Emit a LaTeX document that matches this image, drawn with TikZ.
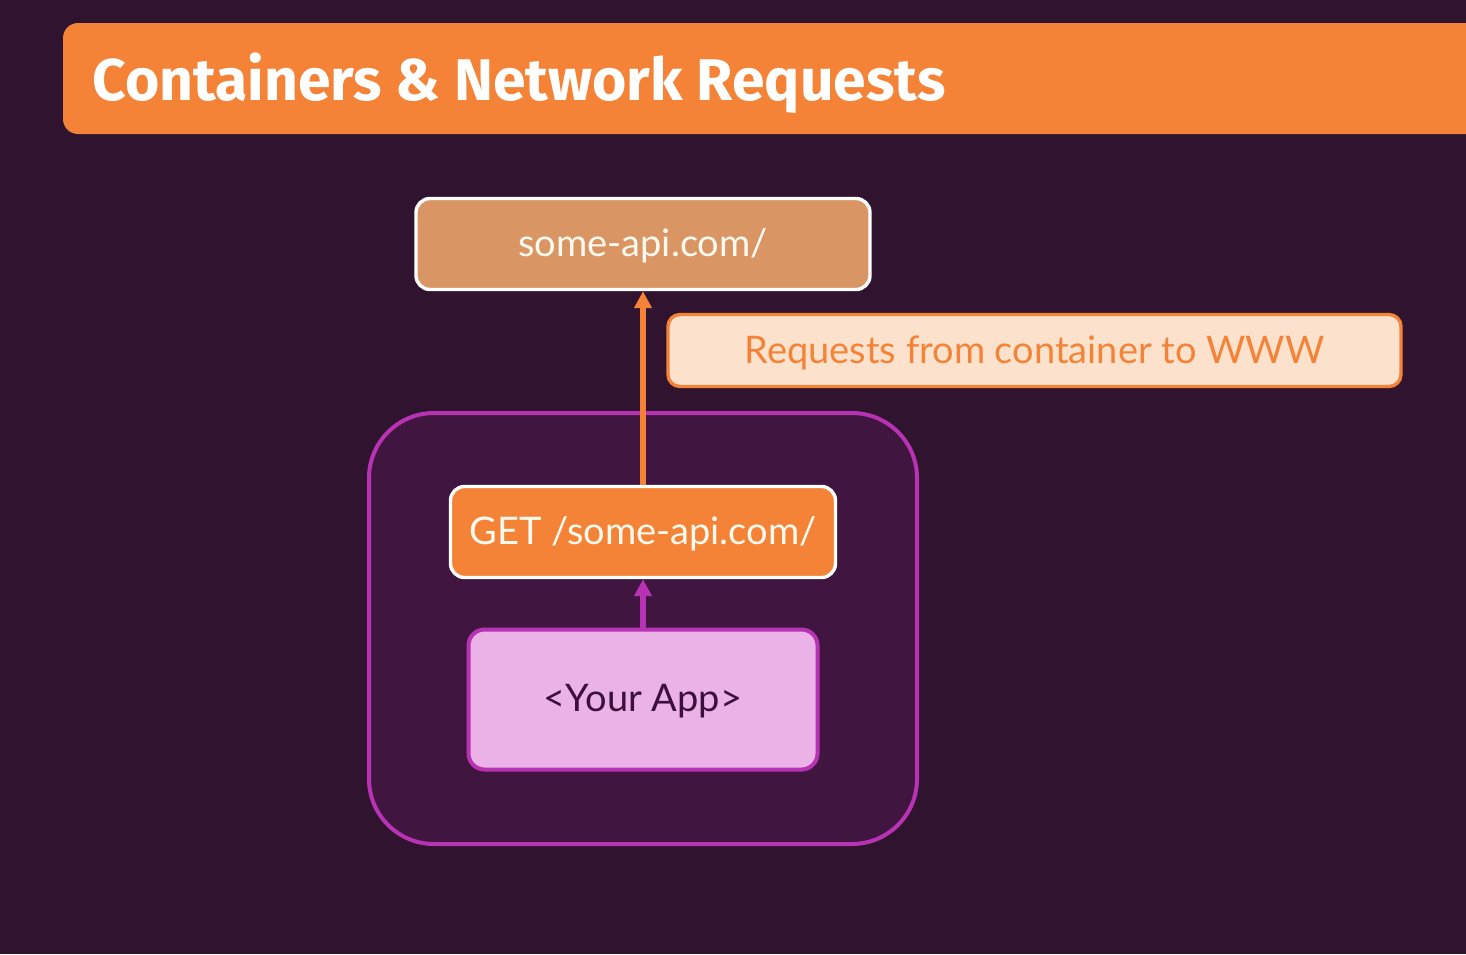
\documentclass[tikz,border=0pt]{standalone}
\usepackage{fontspec}
\setmainfont{Lato}
\newfontfamily\titlefont{Fira Sans}
\usetikzlibrary{arrows.meta}
\definecolor{bg}{RGB}{47,19,47}
\definecolor{ora}{RGB}{244,131,56}
\definecolor{apifill}{RGB}{217,150,100}
\definecolor{notefill}{RGB}{252,226,204}
\definecolor{mag}{RGB}{184,50,180}
\definecolor{contfill}{RGB}{64,22,64}
\definecolor{appfill}{RGB}{234,178,230}
\definecolor{apptext}{RGB}{60,15,60}
\definecolor{offwhite}{RGB}{255,250,240}
\tikzset{
  box/.style={draw, rectangle, rounded corners=14*0.5pt, line width=1.7pt, inner sep=0pt, font=\fontsize{19}{22}\selectfont},
  whitebox/.style={box, draw=white, text=offwhite},
  orarrow/.style={draw=ora, line width=2.6pt, -{Triangle[length=8.5pt,width=8.5pt]}},
  magarrow/.style={draw=mag, line width=2.6pt, -{Triangle[length=8.5pt,width=8.5pt]}},
}
\begin{document}
\begin{tikzpicture}[x=0.5pt,y=-0.5pt]
\useasboundingbox (0,0) rectangle (1466,954);
\clip (0,0) rectangle (1466,954);
\fill[bg] (0,0) rectangle (1466,954);
% title bar
\fill[ora, rounded corners=15*0.5pt] (63,23) rectangle (1520,134);
\node[anchor=base west, text=white, font=\titlefont\bfseries\fontsize{29.4}{34}\selectfont, inner sep=0pt] (title) at (92,100) {Containers \& Network Requests};
% container
\node[draw=mag, fill=contfill, line width=2pt, rectangle, rounded corners=65*0.5pt, minimum width=548*0.5pt, minimum height=431*0.5pt, inner sep=0pt] (container) at (643,628.5) {};
% boxes
\node[whitebox, fill=apifill, minimum width=454*0.5pt, minimum height=91*0.5pt, text depth=0pt, text height=0pt] (api) at (643,244) {};
\node[whitebox, draw=none, fill=none] (apitext) at (643,246) {some-api.com/};
\node[box, draw=ora, fill=notefill, rounded corners=12*0.5pt, minimum width=733*0.5pt, minimum height=72*0.5pt] (note) at (1034.5,350.5) {};
\node[box, draw=none, fill=none, text=ora] (notetext) at (1034.5,352.5) {Requests from container to WWW};
\node[whitebox, fill=ora, minimum width=385*0.5pt, minimum height=91*0.5pt] (get) at (643,532) {};
\node[whitebox, draw=none, fill=none] (gettext) at (643,534) {GET /some-api.com/};
\node[box, draw=mag, fill=appfill, line width=2pt, rounded corners=16*0.5pt, minimum width=349*0.5pt, minimum height=140*0.5pt] (app) at (643,699.5) {};
\node[box, draw=none, fill=none, text=apptext] (apptext) at (643,701.5) {<Your App>};
% arrows
\draw[orarrow] (get.north) -- (api.south);
\draw[magarrow] (app.north) -- (get.south);
\end{tikzpicture}
\end{document}
